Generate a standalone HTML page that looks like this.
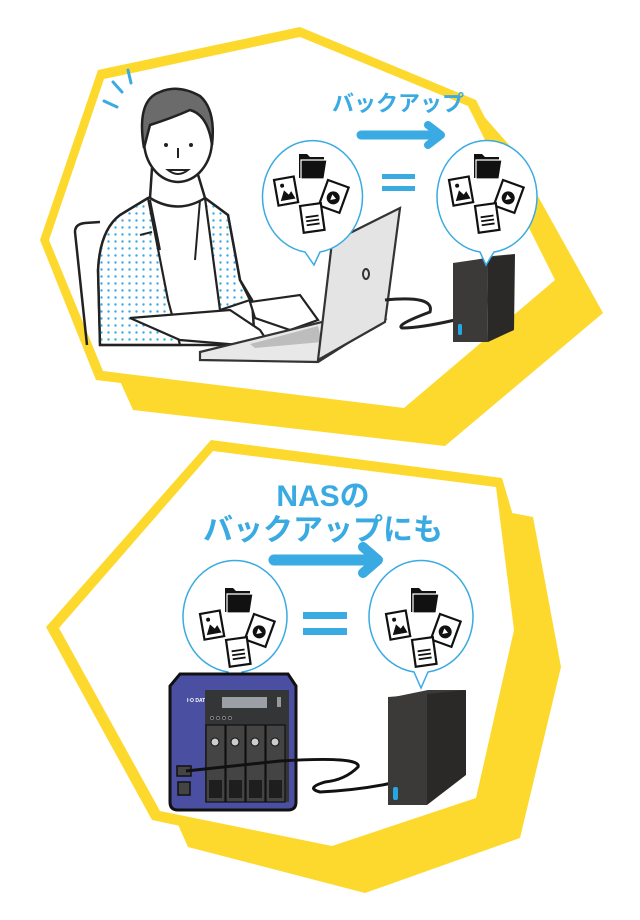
<!DOCTYPE html>
<html><head><meta charset="utf-8"><style>
html,body{margin:0;padding:0;background:#fff;}
svg{display:block}
text{font-family:"Liberation Sans","Noto Sans CJK JP",sans-serif;font-weight:bold;fill:#39aae2}
</style></head><body>
<svg width="640" height="920" viewBox="0 0 640 920" xmlns="http://www.w3.org/2000/svg">
<defs>
<g id="icons">
  <!-- folder -->
  <path d="M-13,-38 h8 l3,3 h14 v21 h-25z" fill="#111"/>
  <path d="M-11,-32 h26 l-3,19 h-23z" fill="#111" stroke="#fff" stroke-width="1.2"/>
  <!-- image doc -->
  <g transform="translate(-38,-12) rotate(-10)">
    <rect x="0" y="0" width="20" height="26" fill="#fff" stroke="#111" stroke-width="2.2"/>
    <path d="M3,22 l5,-10 l4,5 l3,-3 l3,8z" fill="#111"/><circle cx="7" cy="7" r="2" fill="#111"/>
  </g>
  <!-- play doc -->
  <g transform="translate(16,-12) rotate(20)">
    <rect x="0" y="0" width="22" height="27" fill="#fff" stroke="#111" stroke-width="2.2"/>
    <circle cx="11" cy="15" r="6.5" fill="#111"/><path d="M9,12 l5,3 l-5,3z" fill="#fff"/>
  </g>
  <!-- text doc -->
  <g transform="translate(-12,14) rotate(-8)">
    <rect x="0" y="0" width="21" height="27" fill="#fff" stroke="#111" stroke-width="2.2"/>
    <path d="M4,12 h13 M4,16 h13 M4,20 h13" stroke="#111" stroke-width="1.8"/>
  </g>
</g>
<pattern id="dots" width="7" height="7" patternUnits="userSpaceOnUse"><circle cx="3.5" cy="3.5" r="1.2" fill="#39aae2"/></pattern>
</defs>

<!-- ===== TOP PANEL ===== -->
<polygon points="300,40 480,112 510,146 603,313 445,446 133,410 115,370" fill="#fdd92e"/>
<polygon points="98,70 300,27 476,100 566,278 410,418 96,380 40,240" fill="#fdd92e"/>
<polygon points="104,79 300,37 468,106 555,280 404,408 103,371 49,240" fill="#fff"/>

<path d="M104,101 l13,6 M113,82 l9,10 M128,70 l3,13" stroke="#39aae2" stroke-width="3" stroke-linecap="round"/>

<path d="M87,345 L75,232 Q75,224 85,223 L100,222" fill="none" stroke="#222" stroke-width="2.5"/>
<path d="M100,345 L98,270 Q100,230 120,215 L148,198 L205,198 L228,215 L240,280 L252,300 L255,345 Z" fill="#fff" stroke="#222" stroke-width="2.5"/>
<path d="M100,345 L98,270 Q100,230 120,215 L148,198 L168,300 L180,345 Z" fill="url(#dots)" stroke="#222" stroke-width="2.2"/>
<path d="M205,198 L228,215 L240,280 L250,300 L220,310 L212,250 Z" fill="url(#dots)" stroke="#222" stroke-width="2.2"/>
<path d="M150,200 L160,250 M200,200 L195,260 M140,235 L152,232" stroke="#222" stroke-width="2" fill="none"/>
<path d="M152,168 L150,198 Q178,215 205,198 L196,168" fill="#fff" stroke="#222" stroke-width="2.5"/>
<ellipse cx="178" cy="140" rx="34" ry="42" fill="#fff" stroke="#222" stroke-width="2.5"/>
<path d="M144,148 Q136,100 160,92 Q178,84 200,96 Q216,110 212,145 Q208,115 190,110 Q172,118 150,125 Z" fill="#6b6b6b" stroke="#222" stroke-width="2.5"/>
<circle cx="166" cy="145" r="2" fill="#222"/><circle cx="191" cy="145" r="2" fill="#222"/>
<path d="M178,148 v10 M168,170 Q178,178 188,170 Z" stroke="#222" stroke-width="2" fill="#fff"/>
<path d="M130,318 L230,310 L260,330 L270,345 L240,345 L180,340 Z" fill="#fff" stroke="#222" stroke-width="2.2"/>
<path d="M250,302 L300,295 L318,320 L290,330 L255,318 Z" fill="#fff" stroke="#222" stroke-width="2.2"/>

<path d="M200,352 L330,320 L384,320 L318,362 L200,360 Z" fill="#e8e8e8" stroke="#333" stroke-width="2.2"/>
<path d="M250,344 L318,326 L322,342 L255,348 Z" fill="#bdbdbd"/>
<path d="M318,360 L332,242 L400,208 L385,322 Z" fill="#e4e4e4" stroke="#333" stroke-width="2.2"/>
<ellipse cx="366" cy="274" rx="3" ry="5" fill="none" stroke="#333" stroke-width="2"/>

<path d="M385,300 Q435,295 430,312 Q395,325 402,328 Q420,328 455,320" fill="none" stroke="#222" stroke-width="3"/>
<polygon points="455,265 493,256 515,254 477,262" fill="#3a3a3a"/>
<polygon points="453,263 487,258 488,342 453,342" fill="#3b3a38"/>
<polygon points="487,258 515,254 514,330 488,342" fill="#2a2928"/>
<rect x="458" y="324" width="4" height="11" rx="1.5" fill="#27a6e6"/>

<path d="M305,252 A50,56 0 1 1 320,252 L314,265 Z" fill="#fff" stroke="#39aae2" stroke-width="1.5"/>
<path d="M480,252 A50,56 0 1 1 494,252 L486,265 Z" fill="#fff" stroke="#39aae2" stroke-width="1.5"/>
<use href="#icons" transform="translate(312,192)"/>
<use href="#icons" transform="translate(487,192)"/>
<rect x="382" y="174" width="33" height="5" fill="#39aae2"/>
<rect x="382" y="186" width="33" height="5" fill="#39aae2"/>
<text x="398" y="111" font-size="22" text-anchor="middle">バックアップ</text>
<path d="M361,135 H432" stroke="#39aae2" stroke-width="9" stroke-linecap="round"/>
<path d="M428,125 L441,135 L428,145" stroke="#39aae2" stroke-width="8" stroke-linecap="round" stroke-linejoin="round" fill="none"/>

<!-- ===== BOTTOM PANEL ===== -->
<polygon points="260,470 512,513 533,517 561,667 520,838 365,893 188,847 176,820" fill="#fdd92e"/>
<polygon points="211,440 502,478 512,512 525,630 484,805 332,858 152,820 46,627" fill="#fdd92e"/>
<polygon points="213,451 496,487 514,630 476,798 332,846 160,811 59,628" fill="#fff"/>

<text x="323" y="506" font-size="30" text-anchor="middle">NASの</text>
<text x="323" y="540" font-size="30" text-anchor="middle">バックアップにも</text>
<path d="M274,560 H368" stroke="#39aae2" stroke-width="11" stroke-linecap="round"/>
<path d="M363,547 L378,560 L363,573" stroke="#39aae2" stroke-width="10" stroke-linecap="round" stroke-linejoin="round" fill="none"/>

<path d="M228,672 A52,56 0 1 1 242,672 L235,688 Z" fill="#fff" stroke="#39aae2" stroke-width="1.5"/>
<path d="M414,672 A52,56 0 1 1 428,672 L421,688 Z" fill="#fff" stroke="#39aae2" stroke-width="1.5"/>
<use href="#icons" transform="translate(238,626)"/>
<use href="#icons" transform="translate(424,626)"/>
<rect x="303" y="612" width="44" height="7" fill="#39aae2"/>
<rect x="303" y="628" width="44" height="7" fill="#39aae2"/>

<path d="M180,674 H288 L296,686 V802 Q296,810 288,810 H178 Q170,810 170,802 V686 Z" fill="#4b4fa1" stroke="#111" stroke-width="3"/>
<text x="187" y="702" font-size="5" style="fill:#fff">I·O DATA</text>
<rect x="205" y="690" width="84" height="112" fill="#333537"/>
<rect x="222" y="697" width="45" height="11" fill="#9aa0a6"/>
<rect x="277" y="697" width="4" height="10" fill="#999"/>
<g fill="#222" stroke="#aaa" stroke-width="0.6"><circle cx="212" cy="718" r="1.6"/><circle cx="218" cy="718" r="1.6"/><circle cx="224" cy="718" r="1.6"/><circle cx="230" cy="718" r="1.6"/></g>
<g fill="#444" stroke="#111" stroke-width="1.2">
<rect x="206" y="725" width="19" height="77"/><rect x="226" y="725" width="19" height="77"/><rect x="246" y="725" width="19" height="77"/><rect x="266" y="725" width="19" height="77"/>
</g>
<g fill="#ccc" stroke="#111" stroke-width="1"><circle cx="215" cy="742" r="4"/><circle cx="235" cy="742" r="4"/><circle cx="255" cy="742" r="4"/><circle cx="275" cy="742" r="4"/></g>
<g fill="#1e1e1e"><rect x="209" y="780" width="13" height="18"/><rect x="229" y="780" width="13" height="18"/><rect x="249" y="780" width="13" height="18"/><rect x="269" y="780" width="13" height="18"/></g>
<rect x="177" y="766" width="14" height="10" fill="#444" stroke="#111" stroke-width="1.5"/>
<rect x="178" y="782" width="12" height="13" fill="#444" stroke="#111" stroke-width="1.5"/>
<path d="M186,771 L280,761 Q362,756 358,767 Q345,780 325,782 Q305,788 320,792 Q360,790 392,783" fill="none" stroke="#111" stroke-width="3"/>
<polygon points="389,698 428,690 466,690 427,699" fill="#3a3a3a"/>
<polygon points="388,697 427,694 427,805 388,805" fill="#3b3a38"/>
<polygon points="427,694 466,690 466,775 427,805" fill="#2a2928"/>
<rect x="393" y="787" width="5" height="13" rx="2" fill="#27a6e6"/>
</svg>
</body></html>
